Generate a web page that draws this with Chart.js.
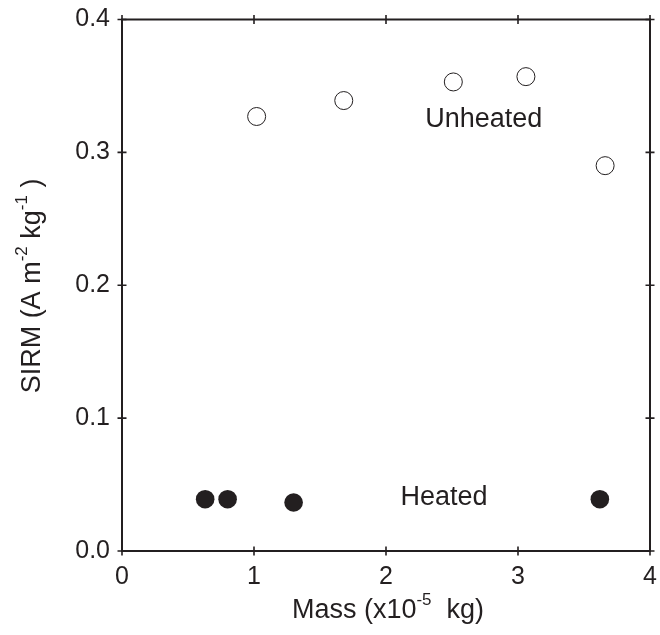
<!DOCTYPE html>
<html lang="en">
<head>
    <meta charset="UTF-8">
    <title>SIRM vs Mass</title>
    <script src="https://cdn.jsdelivr.net/npm/chart.js"></script>
    <style>
        html, body { margin: 0; padding: 0; background: #fff; }
        #wrap { width: 660px; height: 635px; }
    </style>
</head>
<body>
    <div id="wrap"><canvas id="sirmChart"></canvas></div>
    <script>
        // values (mass in 1e-5 kg, SIRM in A m^2 kg^-1)
        const unheatedMass = [1.02, 1.68, 2.51, 3.06, 3.66];
        const unheatedSirm = [0.327, 0.339, 0.353, 0.357, 0.290];
        const heatedMass = [0.63, 0.80, 1.30, 3.62];
        const heatedSirm = [0.039, 0.039, 0.0365, 0.039];
        const xTicks = [0, 1, 2, 3, 4];
        const yTicks = [0.0, 0.1, 0.2, 0.3, 0.4];

        const ink = '#231f20';
        const fontFam = '"Liberation Sans", Arial, Helvetica, sans-serif';

        const toPoints = (xs, ys) => xs.map((x, i) => ({ x: x, y: ys[i] }));

        // draw a string made of [text, isSuperscript] parts, centred at 0,0 on its baseline
        function drawParts(ctx, parts, size) {
            const supSize = Math.round(size * 0.62);
            let total = 0;
            const widths = parts.map(p => {
                ctx.font = (p[1] ? supSize : size) + 'px ' + fontFam;
                const w = ctx.measureText(p[0]).width;
                total += w;
                return w;
            });
            let x = -total / 2;
            parts.forEach((p, i) => {
                ctx.font = (p[1] ? supSize : size) + 'px ' + fontFam;
                ctx.fillText(p[0], x, p[1] ? -size * 0.48 : 0);
                x += widths[i];
            });
        }

        const framePlugin = {
            id: 'frame',
            afterDraw: function(chart) {
                const ctx = chart.ctx;
                const a = chart.chartArea;
                const xs = chart.scales.x, ys = chart.scales.y;
                ctx.save();
                ctx.strokeStyle = ink;
                ctx.lineWidth = 2;
                ctx.strokeRect(a.left, a.top, a.right - a.left, a.bottom - a.top);

                // ticks crossing the frame on all four sides
                ctx.lineWidth = 1.6;
                ctx.beginPath();
                xTicks.forEach(v => {
                    const px = xs.getPixelForValue(v);
                    ctx.moveTo(px, a.bottom - 4.5); ctx.lineTo(px, a.bottom + 4.5);
                    ctx.moveTo(px, a.top - 4.5); ctx.lineTo(px, a.top + 4.5);
                });
                yTicks.forEach(v => {
                    const py = ys.getPixelForValue(v);
                    ctx.moveTo(a.left - 4.5, py); ctx.lineTo(a.left + 4.5, py);
                    ctx.moveTo(a.right - 4.5, py); ctx.lineTo(a.right + 4.5, py);
                });
                ctx.stroke();

                // in-plot labels
                ctx.fillStyle = ink;
                ctx.textAlign = 'center';
                ctx.textBaseline = 'middle';
                ctx.font = '27px ' + fontFam;
                ctx.fillText('Unheated', xs.getPixelForValue(2.74), ys.getPixelForValue(0.3245));
                ctx.fillText('Heated', xs.getPixelForValue(2.44), ys.getPixelForValue(0.0405));

                // axis titles with superscripts
                ctx.textAlign = 'left';
                ctx.textBaseline = 'alphabetic';
                ctx.save();
                ctx.translate((a.left + a.right) / 2 + 2, 618);
                drawParts(ctx, [['Mass (x10', false], ['-5', true], ['  kg)', false]], 27);
                ctx.restore();

                ctx.save();
                ctx.translate(40, 286);
                ctx.rotate(-Math.PI / 2);
                drawParts(ctx, [['SIRM (A m', false], ['-2', true], [' kg', false], ['-1', true], [' )', false]], 27);
                ctx.restore();

                ctx.restore();
            }
        };

        const config = {
            type: 'scatter',
            data: {
                datasets: [
                    {
                        label: 'Unheated',
                        data: toPoints(unheatedMass, unheatedSirm),
                        pointRadius: 9,
                        pointHoverRadius: 9,
                        pointBorderWidth: 1,
                        borderColor: ink,
                        backgroundColor: '#ffffff'
                    },
                    {
                        label: 'Heated',
                        data: toPoints(heatedMass, heatedSirm),
                        pointRadius: 9.3,
                        pointHoverRadius: 9.3,
                        pointBorderWidth: 0,
                        borderColor: ink,
                        backgroundColor: ink
                    }
                ]
            },
            options: {
                responsive: true,
                maintainAspectRatio: false,
                animation: false,
                layout: { padding: { top: 19.5, right: 6.5, left: 0, bottom: 0 } },
                plugins: {
                    legend: { display: false },
                    tooltip: { enabled: false }
                },
                scales: {
                    x: {
                        type: 'linear',
                        min: 0,
                        max: 4,
                        border: { display: false },
                        grid: { display: false, drawTicks: false },
                        afterBuildTicks: s => { s.ticks = xTicks.map(v => ({ value: v })); },
                        afterFit: s => { s.height = 84; s.paddingLeft = 0; s.paddingRight = 0; },
                        ticks: {
                            color: ink,
                            font: { family: fontFam, size: 25 },
                            padding: 11,
                            maxRotation: 0,
                            autoSkip: false,
                            callback: v => String(v)
                        }
                    },
                    y: {
                        type: 'linear',
                        min: 0,
                        max: 0.4,
                        border: { display: false },
                        grid: { display: false, drawTicks: false },
                        afterBuildTicks: s => { s.ticks = yTicks.map(v => ({ value: v })); },
                        afterFit: s => { s.width = 122; s.paddingTop = 0; s.paddingBottom = 0; },
                        ticks: {
                            color: ink,
                            font: { family: fontFam, size: 25 },
                            padding: 12,
                            autoSkip: false,
                            callback: v => v.toFixed(1)
                        }
                    }
                }
            },
            plugins: [framePlugin]
        };

        new Chart(document.getElementById('sirmChart'), config);
    </script>
</body>
</html>
